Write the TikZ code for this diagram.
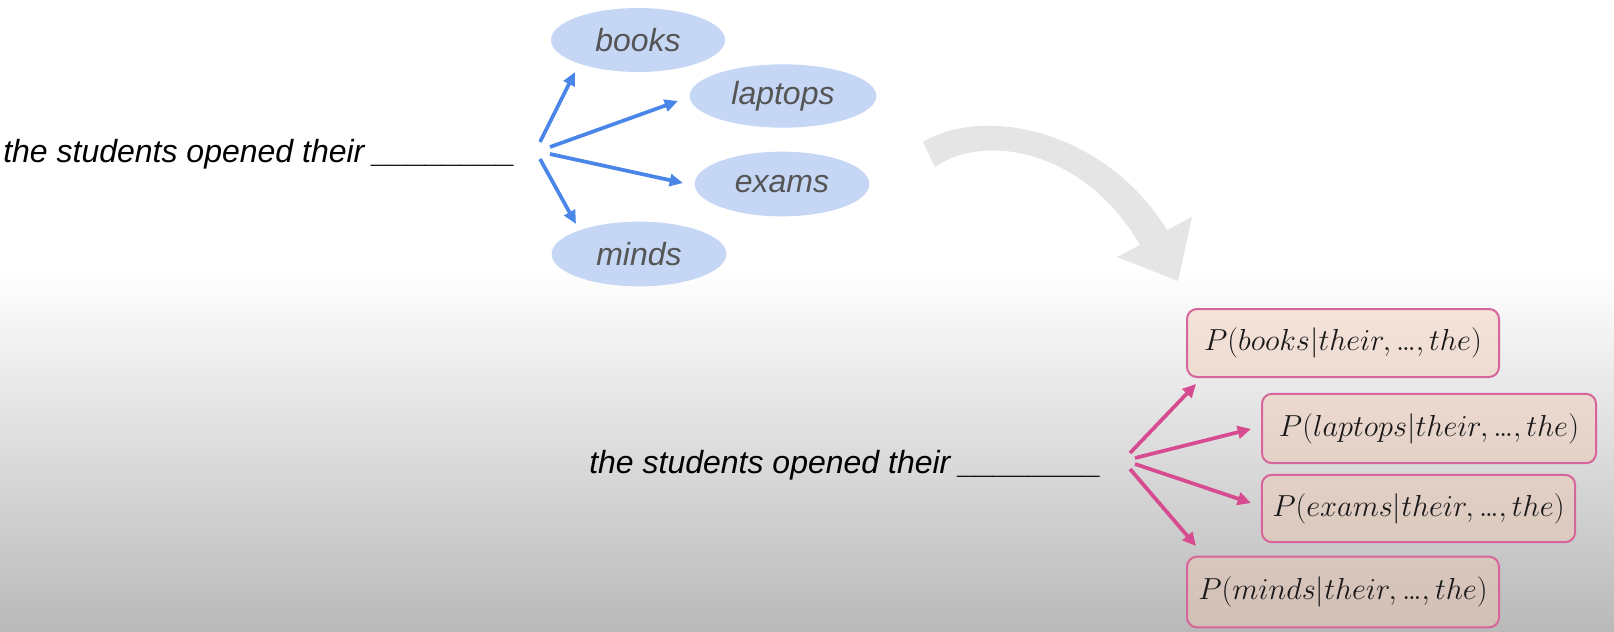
\documentclass[tikz,border=0pt]{standalone}
\usepackage{graphicx}
\usepackage{fontspec}
\setmainfont{Liberation Sans}
\usetikzlibrary{shapes.geometric,arrows.meta}
\definecolor{bgbot}{RGB}{185,185,185}
\definecolor{ellblue}{RGB}{198,215,246}
\definecolor{arrblue}{RGB}{74,134,232}
\definecolor{wordgray}{RGB}{85,85,85}
\definecolor{bigarrow}{RGB}{229,229,229}
\definecolor{pinkline}{RGB}{215,100,155}
\definecolor{pinkarrow}{RGB}{215,75,145}
\definecolor{boxfill}{RGB}{243,200,176}
\newcommand{\pexpr}[1]{\scalebox{1.1}{$P(#1|their,{.\mkern-1.5mu.\mkern-1.5mu.},the)$}}
\tikzset{
  phrase/.style={anchor=base west, inner sep=0pt, font=\fontsize{24}{28}\selectfont\itshape},
  word/.style={ellipse, fill=ellblue, inner sep=0pt, text=wordgray, font=\fontsize{24}{28}\selectfont\itshape},
  bluearr/.style={draw=arrblue, line width=2.8pt, -{Triangle[length=10pt,width=9pt]}},
  pinkarr/.style={draw=pinkarrow, line width=2.8pt, -{Triangle[length=10pt,width=9.5pt]}},
  pbox/.style={draw=pinkline, line width=1.5pt, rounded corners=7.5pt, fill=boxfill, fill opacity=0.42, text opacity=1, text=black!90, inner sep=0pt, font=\huge}
}
\begin{document}
\begin{tikzpicture}[x=0.75pt,y=0.75pt]
\useasboundingbox (0,0) rectangle (1614,-632);
\fill[white] (0,0) rectangle (1614,-632);
\shade[top color=white, bottom color=bgbot] (0,-270) rectangle (1614,-632);
\begin{scope}[yscale=-1]
% big gray curved arrow
\fill[bigarrow] (923,142) .. controls (985,105) and (1105,130) .. (1167,230)
  -- (1192,217) -- (1178,281) -- (1117,257) -- (1140,245)
  .. controls (1085,150) and (985,132) .. (935,167) -- cycle;
% top part
\node[phrase] (q1) at (3,162) {the students opened their \_\_\_\_\_\_\_\_};
\node[word, minimum width=130.5pt, minimum height=48pt] (books) at (638,40) {books};
\node[word, minimum width=140pt, minimum height=47.5pt] (laptops) at (783,96) {laptops};
\node[word, minimum width=131pt, minimum height=48.5pt] (exams) at (782,184) {exams};
\node[word, minimum width=131pt, minimum height=48.5pt] (minds) at (639,254) {minds};
\coordinate (s1) at (540,142); \coordinate (t1) at (575,72);
\coordinate (s2) at (550,147); \coordinate (t2) at (678,101);
\coordinate (s3) at (550,154); \coordinate (t3) at (683,183);
\coordinate (s4) at (540,159); \coordinate (t4) at (576,224);
\draw[bluearr] (s1) -- (t1);
\draw[bluearr] (s2) -- (t2);
\draw[bluearr] (s3) -- (t3);
\draw[bluearr] (s4) -- (t4);
% bottom part
\node[phrase] (q2) at (589,473) {the students opened their \_\_\_\_\_\_\_\_};
\node[pbox, minimum width=234pt, minimum height=51pt] (pb1) at (1343,343) {\pexpr{books}};
\node[pbox, minimum width=250.5pt, minimum height=52pt] (pb2) at (1429,428.5) {\pexpr{laptops}};
\node[pbox, minimum width=235pt, minimum height=50.5pt] (pb3) at (1418.5,508.5) {\pexpr{exams}};
\node[pbox, minimum width=234pt, minimum height=53pt] (pb4) at (1343,592) {\pexpr{minds}};
\coordinate (r1) at (1130,453); \coordinate (u1) at (1196,384);
\coordinate (r2) at (1135,458); \coordinate (u2) at (1251,429);
\coordinate (r3) at (1135,464); \coordinate (u3) at (1251,503);
\coordinate (r4) at (1130,469); \coordinate (u4) at (1196,546);
\draw[pinkarr] (r1) -- (u1);
\draw[pinkarr] (r2) -- (u2);
\draw[pinkarr] (r3) -- (u3);
\draw[pinkarr] (r4) -- (u4);
\end{scope}
\end{tikzpicture}
\end{document}
